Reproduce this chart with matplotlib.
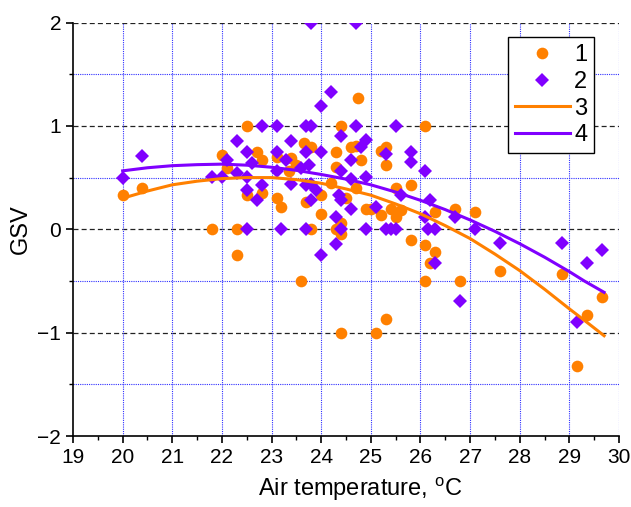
import numpy as np
import matplotlib
matplotlib.use("Agg")
import matplotlib.pyplot as plt
from matplotlib.ticker import MultipleLocator

plt.rcParams['font.family'] = ['Liberation Sans', 'DejaVu Sans']
plt.rcParams['mathtext.fontset'] = 'custom'
plt.rcParams['mathtext.rm'] = 'Liberation Sans'

# series 1 (orange circles)
temp_1 = [20.0, 20.4, 21.8, 22.0, 22.1, 22.3, 22.3, 22.5, 22.5, 22.7,
          22.8, 22.8, 23.1, 23.1, 23.2, 23.35, 23.4, 23.5, 23.6, 23.65,
          23.8, 23.7, 23.8, 24.0, 24.0, 24.2, 24.3, 24.3, 24.4, 24.3,
          24.4, 24.4, 24.4, 24.5, 24.6, 24.7, 24.7, 24.75, 24.8, 24.9,
          25.0, 25.1, 25.2, 25.2, 25.3, 25.3, 25.3, 25.4, 25.5, 25.5,
          25.6, 25.8, 25.8, 26.1, 26.1, 26.1, 26.2, 26.3, 26.3, 26.7,
          26.8, 27.1, 27.6, 28.85, 29.15, 29.35, 29.65]
gsv_1 = [0.33, 0.40, 0.0, 0.72, 0.59, 0.0, -0.25, 1.0, 0.33, 0.75,
         0.67, 0.35, 0.70, 0.30, 0.22, 0.56, 0.69, 0.62, -0.5, 0.83,
         0.80, 0.26, 0.0, 0.15, 0.33, 0.45, 0.75, 0.60, 1.0, 0.0,
         0.06, -0.05, -1.0, 0.30, 0.80, 0.81, 0.40, 1.27, 0.67, 0.20,
         0.20, -1.0, 0.14, 0.76, 0.80, 0.62, -0.87, 0.20, 0.40, 0.12,
         0.19, 0.43, -0.10, 1.0, -0.15, -0.5, -0.33, -0.22, 0.17, 0.20,
         -0.5, 0.17, -0.4, -0.43, -1.32, -0.83, -0.66]

# series 2 (violet diamonds)
temp_2 = [20.0, 20.4, 21.8, 22.0, 22.1, 22.3, 22.3, 22.5, 22.5, 22.5,
          22.5, 22.6, 22.7, 22.8, 22.8, 23.1, 23.1, 23.1, 23.2, 23.3,
          23.4, 23.4, 23.6, 23.7, 23.7, 23.7, 23.7, 23.75, 23.8, 23.8,
          23.8, 23.8, 23.9, 24.0, 24.0, 24.0, 24.2, 24.3, 24.3, 24.35,
          24.4, 24.4, 24.4, 24.4, 24.6, 24.6, 24.6, 24.7, 24.7, 24.8,
          24.9, 24.9, 24.9, 25.1, 25.3, 25.3, 25.4, 25.5, 25.5, 25.6,
          25.8, 25.8, 26.1, 26.1, 26.15, 26.2, 26.3, 26.3, 26.7, 26.8,
          27.1, 27.6, 28.85, 29.15, 29.35, 29.65]
gsv_2 = [0.50, 0.71, 0.51, 0.51, 0.67, 0.85, 0.54, 0.75, 0.51, 0.38,
         0.0, 0.64, 0.28, 1.0, 0.43, 1.0, 0.75, 0.56, 0.0, 0.67,
         0.85, 0.44, 0.59, 1.0, 0.75, 0.43, 0.0, 0.62, 1.0, 2.0,
         0.44, 0.28, 0.38, 1.19, 0.75, -0.25, 1.33, 0.12, -0.14, 0.33,
         0.90, 0.56, 0.28, 0.0, 0.67, 0.49, 0.20, 1.0, 2.0, 0.80,
         0.86, 0.51, 0.0, 0.22, 0.73, 0.0, 0.0, 1.0, 0.0, 0.33,
         0.75, 0.65, 0.56, 0.12, 0.0, 0.28, 0.0, -0.33, 0.12, -0.69,
         0.0, -0.13, -0.13, -0.90, -0.33, -0.20]

# fitted curves 3 and 4
curve_x = [20, 20.5, 21, 21.5, 22, 22.5, 23, 23.5, 24, 24.5, 25, 25.5,
           26, 26.5, 27, 27.5, 28, 28.5, 29, 29.3, 29.7]
curve_3 = [0.30, 0.37, 0.43, 0.465, 0.49, 0.50, 0.50, 0.48, 0.445, 0.39,
           0.33, 0.245, 0.15, 0.035, -0.09, -0.24, -0.40, -0.58, -0.77,
           -0.88, -1.03]
curve_4 = [0.565, 0.595, 0.615, 0.625, 0.63, 0.62, 0.60, 0.57, 0.53, 0.485,
           0.43, 0.36, 0.28, 0.19, 0.09, -0.02, -0.14, -0.27, -0.41,
           -0.50, -0.61]

orange = '#FF8000'
violet = '#8000FF'

fig = plt.figure(figsize=(6.31, 5.07), dpi=100)
ax = fig.add_axes([0.1157, 0.140, 0.8653, 0.8156])

ax.plot(temp_1, gsv_1, 'o', color=orange, ms=8.4, mew=0, label='1', zorder=3)
ax.plot(temp_2, gsv_2, 'D', color=violet, ms=7.2, mew=0, label='2', zorder=4)
ax.plot(curve_x, curve_3, '-', color=orange, lw=2.2, label='3', zorder=5)
ax.plot(curve_x, curve_4, '-', color=violet, lw=2.2, label='4', zorder=6)

ax.set_xlim(19, 30)
ax.set_ylim(-2, 2)
ax.xaxis.set_major_locator(MultipleLocator(1))
ax.xaxis.set_minor_locator(MultipleLocator(0.5))
ax.yaxis.set_major_locator(MultipleLocator(1))
ax.yaxis.set_minor_locator(MultipleLocator(0.5))

for s in ['top', 'right']:
    ax.spines[s].set_visible(False)
for s in ['left', 'bottom']:
    ax.spines[s].set_linewidth(1.2)

ax.tick_params(which='major', direction='out', length=5, width=1.2, labelsize=15)
ax.tick_params(which='minor', direction='out', length=3, width=1.0)

# grid: black dashed at integer GSV, blue dotted at half values and every degree
for yv in [-1, 0, 1, 2]:
    ax.axhline(yv, color='#222222', lw=0.9, ls=(0, (4, 2.5)), zorder=1)
for yv in [-1.5, -0.5, 0.5, 1.5]:
    ax.axhline(yv, color='#3030FF', lw=0.8, ls=(0, (1, 1)), zorder=1)
for xv in range(20, 31):
    ax.axvline(xv, color='#3030FF', lw=0.8, ls=(0, (1, 1)), zorder=1)

ax.set_xlabel(r'Air temperature, $^\mathrm{o}$C', fontsize=17, labelpad=5)
ax.xaxis.set_label_coords(0.525, -0.095)
ax.set_ylabel('GSV', fontsize=17, labelpad=4)

leg = ax.legend(loc='upper left', bbox_to_anchor=(0.797, 0.965), fontsize=17,
                frameon=True, fancybox=False, edgecolor='black', framealpha=1,
                handlelength=2.3, handletextpad=0.2, labelspacing=0.2,
                borderpad=0.3, borderaxespad=0)
leg.get_frame().set_linewidth(1.0)
leg.set_zorder(10)

fig.savefig('out.png', dpi=100)
